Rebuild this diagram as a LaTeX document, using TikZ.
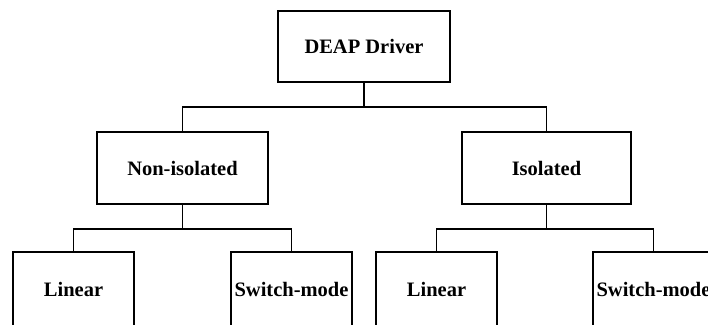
\documentclass[tikz,border=0pt]{standalone}
\usepackage{fontspec}
\setmainfont{Liberation Serif}
\begin{document}
\begin{tikzpicture}[x=1pt,y=-1pt,
  box/.style={draw=black, line width=1.4pt, fill=white, inner sep=0pt,
    font=\bfseries\fontsize{20.5}{24}\selectfont, text=black},
  wire/.style={draw=black, line width=1.4pt}]
  \useasboundingbox (0,0) rectangle (708,324);
  \clip (0,0) rectangle (708,324);

  % root
  \node[box, minimum width=172pt, minimum height=71pt] (root) at (364,46.5) {DEAP Driver};

  % second level
  \node[box, minimum width=171pt, minimum height=72pt] (noniso) at (182.5,168) {Non-isolated};
  \node[box, minimum width=169pt, minimum height=72pt] (iso) at (546.5,168) {Isolated};

  % third level (runs past the lower edge)
  \node[box, minimum width=121pt, minimum height=74pt] (lin1) at (73.5,289) {Linear};
  \node[box, minimum width=121pt, minimum height=74pt] (sw1) at (291.5,289) {Switch-mode};
  \node[box, minimum width=121pt, minimum height=74pt] (lin2) at (436.5,289) {Linear};
  \node[box, minimum width=121pt, minimum height=74pt] (sw2) at (653.5,289) {Switch-mode};

  % junction points
  \coordinate (j0) at (364,107);
  \coordinate (j1) at (182.5,229);
  \coordinate (j2) at (546.5,229);

  % connectors
  \draw[wire] (root.south) -- (j0);
  \draw[wire] (noniso.north) |- (j0) -| (iso.north);
  \draw[wire] (noniso.south) -- (j1);
  \draw[wire] (lin1.north) |- (j1) -| (sw1.north);
  \draw[wire] (iso.south) -- (j2);
  \draw[wire] (lin2.north) |- (j2) -| (sw2.north);
\end{tikzpicture}
\end{document}
